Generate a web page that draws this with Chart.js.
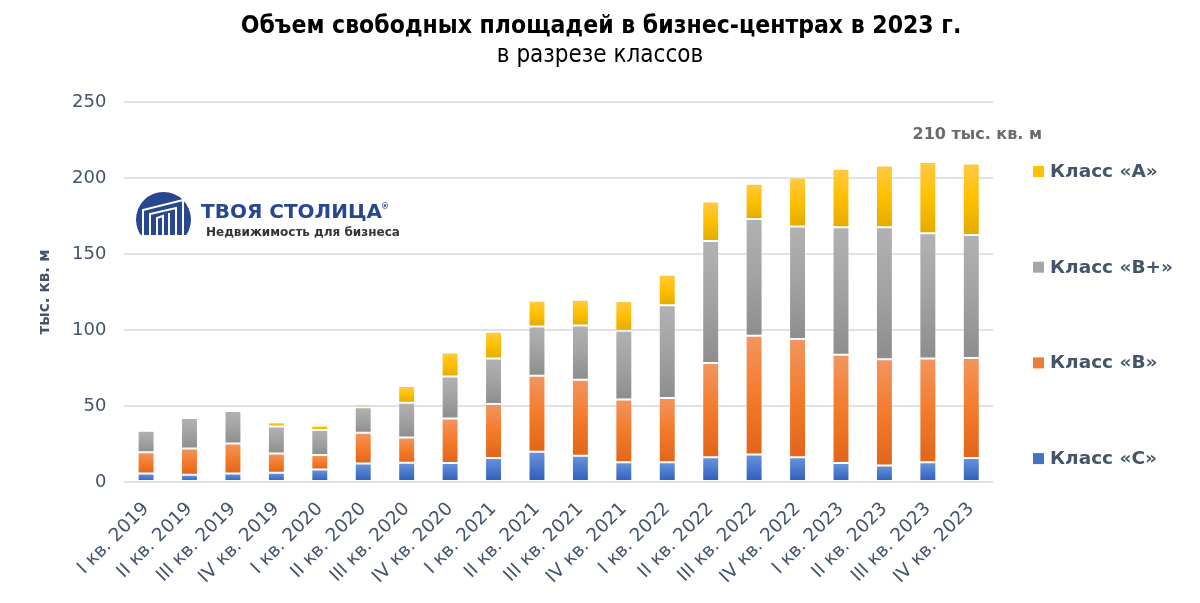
<!DOCTYPE html>
<html lang="ru">
<head>
<meta charset="utf-8">
<title>Объем свободных площадей в бизнес-центрах</title>
<script src="https://cdn.jsdelivr.net/npm/chart.js@4/dist/chart.umd.min.js"></script>
<style>
  html, body { margin: 0; padding: 0; background: #fff; }
  #wrap { width: 1200px; height: 603px; position: relative; }
</style>
</head>
<body>
<div id="wrap"><canvas id="grafica"></canvas></div>
<script>
// Данные (тыс. кв. м)
const kvartaly = ['I кв. 2019', 'II кв. 2019', 'III кв. 2019', 'IV кв. 2019',
                  'I кв. 2020', 'II кв. 2020', 'III кв. 2020', 'IV кв. 2020',
                  'I кв. 2021', 'II кв. 2021', 'III кв. 2021', 'IV кв. 2021',
                  'I кв. 2022', 'II кв. 2022', 'III кв. 2022', 'IV кв. 2022',
                  'I кв. 2023', 'II кв. 2023', 'III кв. 2023', 'IV кв. 2023'];
const klassC     = [5.7, 4.8, 5.7, 6.1, 8.3, 12.3, 12.7, 12.6, 15.8, 20.0, 17.4, 13.0, 13.0, 16.3, 18.2, 16.3, 12.5, 11.0, 13.0, 15.8];
const klassB     = [14.0, 17.3, 19.7, 12.8, 9.5, 20.2, 16.7, 29.2, 35.6, 49.9, 50.0, 41.3, 42.4, 62.1, 78.0, 77.9, 71.2, 69.8, 68.3, 65.9];
const klassBplus = [14.1, 20.0, 21.3, 17.7, 16.4, 16.8, 22.8, 27.6, 29.9, 32.5, 35.6, 45.2, 61.0, 80.2, 76.9, 73.9, 83.9, 86.8, 82.4, 80.9];
const klassA     = [0.8, 0.9, 1.3, 2.7, 3.1, 1.8, 11.0, 15.8, 17.6, 16.9, 16.9, 19.6, 20.0, 25.9, 23.1, 32.3, 38.5, 40.7, 46.8, 47.0];
const ejeYTicks  = [0, 50, 100, 150, 200, 250];
const nota = '210 тыс. кв. м';
const titulo = 'Объем свободных площадей в бизнес-центрах в 2023 г.';
const subtitulo = 'в разрезе классов';

const series = [klassC, klassB, klassBplus, klassA];
const nombres = ['Класс «С»', 'Класс «В»', 'Класс «В+»', 'Класс «А»'];

// Цвета градиентов: верх, середина, низ
const paleta = [
    ['#6a93dc', '#4a78cc', '#2d5cb8'],
    ['#f2955f', '#f47b2b', '#e1651a'],
    ['#b2b2b2', '#a2a2a2', '#8d8d8d'],
    ['#ffca45', '#ffc000', '#e3ab00']
];
const colorLegend = ['#4472c4', '#ed7d31', '#a5a5a5', '#ffc000'];
const textoColor = '#44546a';

function baseDe(i, j) {
    let s = 0;
    for (let k = 0; k < i; k++) s += series[k][j];
    return s;
}

function relleno(ctx) {
    const chart = ctx.chart;
    const i = ctx.datasetIndex;
    const j = ctx.dataIndex;
    const c = paleta[i];
    if (!chart.chartArea || j === undefined) return c[1];
    const y = chart.scales.y;
    const b = baseDe(i, j);
    const yTop = y.getPixelForValue(b + series[i][j]);
    const yBot = y.getPixelForValue(b);
    if (!isFinite(yTop) || !isFinite(yBot) || yBot - yTop < 1) return c[1];
    const g = chart.ctx.createLinearGradient(0, yTop, 0, yBot);
    g.addColorStop(0, c[0]);
    g.addColorStop(0.5, c[1]);
    g.addColorStop(1, c[2]);
    return g;
}

const datasets = series.map((d, i) => ({
    label: nombres[i],
    data: d,
    backgroundColor: relleno,
    borderColor: 'rgba(255,255,255,0.45)',
    borderWidth: 1,
    borderSkipped: false,
    categoryPercentage: 1,
    barPercentage: 0.39
}));

// Заголовок, логотип, подпись и легенда
const extras = {
    id: 'extras',
    afterDraw(chart) {
        const c = chart.ctx;
        c.save();

        // заголовок
        c.textAlign = 'center';
        c.textBaseline = 'middle';
        c.fillStyle = '#000';
        c.font = 'bold 24.5px "DejaVu Sans Condensed"';
        c.fillText(titulo, 601, 27);
        c.font = '24px "DejaVu Sans Condensed"';
        c.fillText(subtitulo, 600, 56);

        // легенда справа
        c.textAlign = 'left';
        c.font = 'bold 18.5px "DejaVu Sans"';
        for (let n = 0; n < 4; n++) {
            const i = 3 - n;
            const yy = 172 + n * 95.7;
            c.fillStyle = colorLegend[i];
            c.fillRect(1033, yy - 6, 11, 11);
            c.fillStyle = textoColor;
            c.fillText(nombres[i], 1050, yy);
        }

        // подпись над последними столбцами
        const xs = chart.scales.x;
        const ys = chart.scales.y;
        c.font = 'bold 16px "DejaVu Sans"';
        c.fillStyle = '#6b6b6b';
        c.textAlign = 'center';
        c.fillText(nota, xs.getPixelForValue(kvartaly.length - 1) + 6, ys.getPixelForValue(228.3));

        // логотип
        const lx = 163.5, ly = 219.5, r = 27.5;
        c.beginPath();
        c.rect(lx - r - 1, ly - r - 1, 2 * r + 2, 235 - (ly - r) + 1);
        c.clip();
        c.beginPath();
        c.arc(lx, ly, r, 0, Math.PI * 2);
        c.fillStyle = '#27478e';
        c.fill();
        c.strokeStyle = '#fff';
        c.lineWidth = 2;
        c.beginPath();
        c.moveTo(143, 236); c.lineTo(143, 210); c.lineTo(183, 200); c.lineTo(183, 236);
        c.moveTo(150, 236); c.lineTo(150, 214); c.lineTo(176, 208); c.lineTo(176, 236);
        c.moveTo(157, 236); c.lineTo(157, 218); c.lineTo(163, 216); c.lineTo(163, 236);
        c.moveTo(169, 236); c.lineTo(169, 213);
        c.stroke();
        c.restore();

        c.save();
        c.textBaseline = 'alphabetic';
        c.textAlign = 'left';
        c.fillStyle = '#27478e';
        c.font = 'bold 20px "DejaVu Sans"';
        c.fillText('ТВОЯ СТОЛИЦА', 201, 218);
        c.font = 'bold 8px "DejaVu Sans"';
        c.fillText('®', 381, 209);
        c.fillStyle = '#333';
        c.font = 'bold 12px "DejaVu Sans"';
        c.fillText('Недвижимость для бизнеса', 206, 236);
        c.restore();
    }
};

new Chart(document.getElementById('grafica'), {
    type: 'bar',
    data: { labels: kvartaly, datasets: datasets },
    plugins: [extras],
    options: {
        responsive: true,
        maintainAspectRatio: false,
        animation: false,
        layout: { padding: { left: 28, right: 207, top: 102, bottom: 7 } },
        plugins: {
            legend: { display: false },
            tooltip: { enabled: false }
        },
        scales: {
            x: {
                stacked: true,
                grid: { display: false },
                border: { display: false },
                ticks: {
                    color: textoColor,
                    font: { family: '"DejaVu Sans"', size: 18.5 },
                    minRotation: 45,
                    maxRotation: 45,
                    autoSkip: false,
                    padding: 8
                }
            },
            y: {
                stacked: true,
                min: 0,
                max: 250,
                afterBuildTicks: (ax) => { ax.ticks = ejeYTicks.map(v => ({ value: v })); },
                grid: { color: '#dde2e8', lineWidth: 2, drawTicks: false },
                border: { display: false },
                ticks: {
                    color: textoColor,
                    font: { family: '"DejaVu Sans"', size: 18 },
                    padding: 18
                },
                title: {
                    display: true,
                    text: 'тыс. кв. м',
                    color: textoColor,
                    font: { family: '"DejaVu Sans"', size: 15, weight: 'bold' },
                    padding: { top: 8, bottom: 0 }
                }
            }
        }
    }
});
</script>
</body>
</html>
